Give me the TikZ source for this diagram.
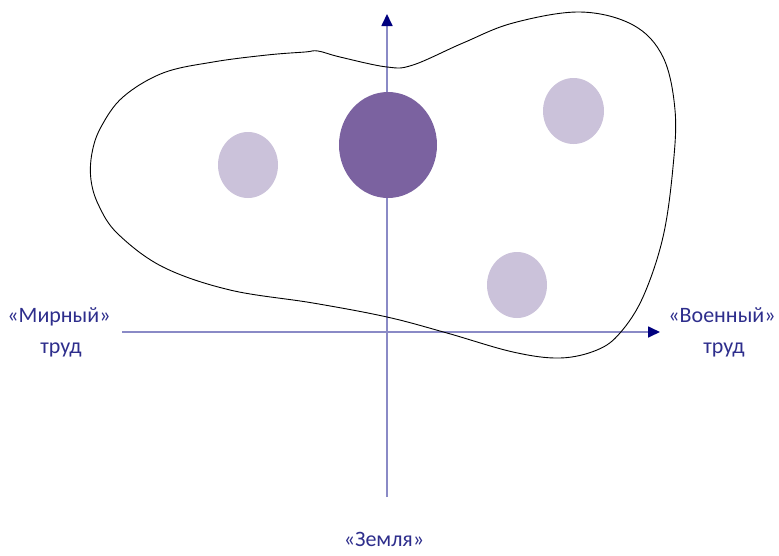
\documentclass[tikz,border=0pt]{standalone}
\usepackage{fontspec}
\setmainfont{Carlito}
\usetikzlibrary{arrows.meta,shapes.geometric}
\definecolor{axisline}{HTML}{8A8AC6}
\definecolor{tipcol}{HTML}{00007F}
\definecolor{darkblob}{HTML}{7B62A0}
\definecolor{lightblob}{HTML}{CBC2DA}
\definecolor{labelcol}{HTML}{2E2E8C}
\begin{document}
\begin{tikzpicture}[x=1pt,y=-1pt,
  axisarrow/.style={draw=axisline,line width=1.7pt,-{Triangle[length=12pt,width=11pt,color=tipcol]}},
  spot/.style={ellipse,draw=none,inner sep=0pt},
  lbl/.style={font=\fontsize{22}{26}\selectfont,text=labelcol,anchor=base,inner sep=0pt}]
\useasboundingbox (0,0) rectangle (779,555);
% axes
\coordinate (hl) at (122,332);
\coordinate (hr) at (660,332);
\coordinate (vb) at (387,497);
\coordinate (vt) at (387,14);
\draw[axisarrow] (hl) -- (hr);
\draw[axisarrow] (vb) -- (vt);
% outline
\draw[black,line width=0.9pt] plot[smooth cycle,tension=0.6] coordinates {
 (101,127) (123,97) (163,73) (213,62) (267,55) (305,52) (318,51) (340,57)
 (387,67) (413,65) (463,43) (513,23) (580,12) (633,25) (663,57) (675,110) (673,167)
 (663,237) (643,297) (620,333) (597,350) (560,358) (513,352) (447,333) (387,317)
 (313,303) (230,290) (163,267) (118,234) (99,206) (91,180) (92,153)};
% spots
\node[spot,fill=darkblob,minimum width=98pt,minimum height=106pt] (c) at (388,145) {};
\node[spot,fill=lightblob,minimum width=60pt,minimum height=66pt] (l) at (248,165) {};
\node[spot,fill=lightblob,minimum width=61pt,minimum height=66pt] (tr) at (573.5,111) {};
\node[spot,fill=lightblob,minimum width=60pt,minimum height=66pt] (br) at (517,285) {};
% labels
\node[lbl] (m1) at (59,322) {«Мирный»};
\node[lbl] (m2) at (61,353) {труд};
\node[lbl] (v1) at (722,322) {«Военный»};
\node[lbl] (v2) at (724,353) {труд};
\node[lbl] (z) at (384,546) {«Земля»};
\end{tikzpicture}
\end{document}
